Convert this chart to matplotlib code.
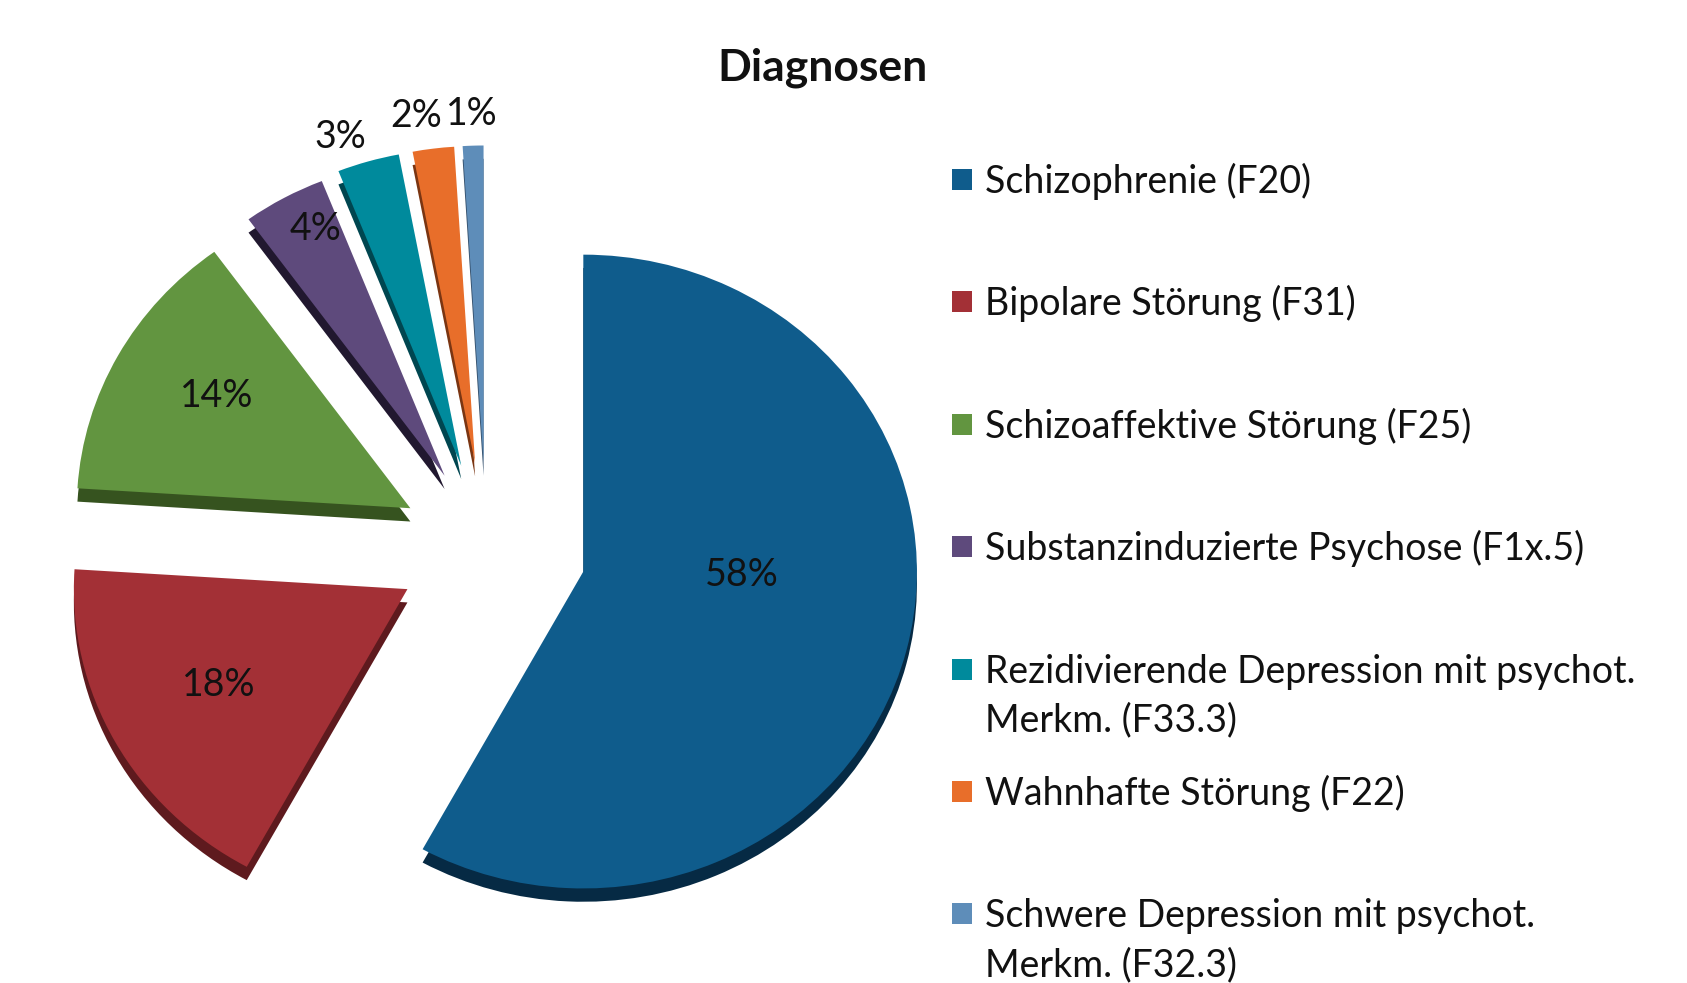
import matplotlib
matplotlib.use("Agg")
import matplotlib.pyplot as plt
from matplotlib.patches import Rectangle
import numpy as np

plt.rcParams['font.family'] = ['Lato', 'DejaVu Sans']

# data
categories = ["Schizophrenie (F20)",
              "Bipolare Störung (F31)",
              "Schizoaffektive Störung (F25)",
              "Substanzinduzierte Psychose (F1x.5)",
              "Rezidivierende Depression mit psychot.\nMerkm. (F33.3)",
              "Wahnhafte Störung (F22)",
              "Schwere Depression mit psychot.\nMerkm. (F32.3)"]
shares = [58, 18, 14, 4, 3, 2, 1]

# styling
colors = ['#0F5C8C', '#A33036', '#629540', '#5E4A7C', '#008A9C', '#E86E2A', '#5E8DB9']
side_colors = ['#062A44', '#5E1A1E', '#36531F', '#21182F', '#004650', '#7A3512', '#34506C']
explode = [0.30, 0.27, 0.26, 0.26, 0.27, 0.27, 0.27]
label_dist = [0.77, 0.91, 0.94, 1.13, 1.37, 1.38, 1.37]
label_turn = [8, -0.5, -1.8, -1.8, 2.5, 1.6, 0]   # small angle nudges (deg) like the Excel labels

fig = plt.figure(figsize=(16.87, 9.83), dpi=100)
ax = fig.add_axes([0, 0, 1, 1])

# darker copy underneath gives the 3D side wall
ax.pie(shares, explode=explode, colors=side_colors, startangle=90, counterclock=False,
       center=(0.0, -0.042), wedgeprops=dict(linewidth=0))
wedges, _ = ax.pie(shares, explode=explode, colors=colors, startangle=90, counterclock=False,
                   wedgeprops=dict(linewidth=0))

ax.set_xlim(-1.458, 3.599)
ax.set_ylim(-1.373, 1.729)
ax.set_aspect('auto')
ax.axis('off')

for w, v, d, t in zip(wedges, shares, label_dist, label_turn):
    ang = np.deg2rad((w.theta1 + w.theta2) / 2 + t)
    ax.text(d * np.cos(ang), d * np.sin(ang), f"{v}%", ha='center', va='center',
            fontsize=27, color='#111111')

# title + legend in pixel coordinates
ax2 = fig.add_axes([0, 0, 1, 1])
ax2.set_xlim(0, 1687)
ax2.set_ylim(983, 0)
ax2.axis('off')

ax2.text(823, 80, "Diagnosen", ha='center', va='baseline', fontsize=32,
         fontweight='bold', color='#111111')

for i, (lab, c) in enumerate(zip(categories, colors)):
    base = 193 + 122.4 * i
    ax2.add_patch(Rectangle((952, base - 24), 20, 21, color=c, linewidth=0))
    for k, line in enumerate(lab.split('\n')):
        ax2.text(985, base + 48.5 * k, line, ha='left', va='baseline', fontsize=27,
                 color='#111111')

fig.savefig('out.png', dpi=100)
